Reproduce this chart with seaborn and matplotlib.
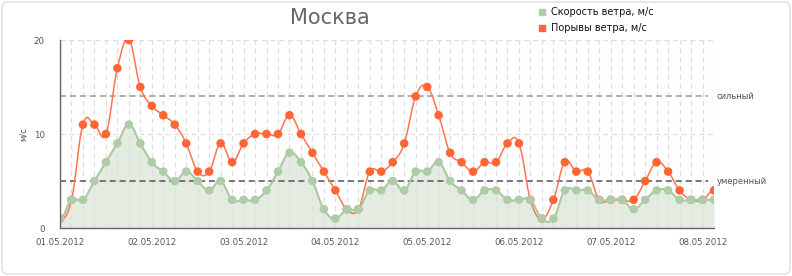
import numpy as np
import pandas as pd
import matplotlib
matplotlib.use('Agg')
import matplotlib.pyplot as plt
import seaborn as sns
from matplotlib.patches import FancyBboxPatch
from matplotlib.lines import Line2D

# 3-hourly observations, Moscow, 01.05.2012 00:00 .. 08.05.2012 03:00
times = pd.date_range('2012-05-01 00:00', periods=58, freq='3h')
wind_speed = [1, 3, 3, 5, 7, 9, 11, 9, 7, 6, 5, 6, 5, 4, 5, 3, 3, 3, 4, 6,
              8, 7, 5, 2, 1, 2, 2, 4, 4, 5, 4, 6, 6, 7, 5, 4, 3, 4, 4, 3,
              3, 3, 1, 1, 4, 4, 4, 3, 3, 3, 2, 3, 4, 4, 3, 3, 3, 3]
wind_gust = [1, 3, 11, 11, 10, 17, 20, 15, 13, 12, 11, 9, 6, 6, 9, 7, 9, 10, 10, 10,
             12, 10, 8, 6, 4, 2, 2, 6, 6, 7, 9, 14, 15, 12, 8, 7, 6, 7, 7, 9,
             9, 3, 1, 3, 7, 6, 6, 3, 3, 3, 3, 5, 7, 6, 4, 3, 3, 4]
level_values = [14, 5]
level_names = ['сильный', 'умеренный']
level_colors = ['#9a9a9a', '#555555']
series_names = ['Скорость ветра, м/с', 'Порывы ветра, м/с']

GREEN_LINE = '#a9c8a1'
GREEN_DOT = '#afcba8'
GREEN_FILL = '#e4ece1'
RED_LINE = '#ff7452'
RED_DOT = '#ff6633'


def spline(x, y, n=20, k=0.4):
    # bezier smoothing through every point, like a charting lib "spline" series
    x = np.asarray(x, float)
    y = np.asarray(y, float)
    m = np.zeros_like(y)
    m[1:-1] = (y[2:] - y[:-2]) / (x[2:] - x[:-2])
    t = np.linspace(0, 1, n, endpoint=False)
    xs, ys = [], []
    for i in range(len(x) - 1):
        dx = x[i + 1] - x[i]
        p0 = np.array([x[i], y[i]])
        p1 = np.array([x[i] + k * dx, y[i] + k * m[i] * dx])
        p2 = np.array([x[i + 1] - k * dx, y[i + 1] - k * m[i + 1] * dx])
        p3 = np.array([x[i + 1], y[i + 1]])
        pts = ((1 - t) ** 3)[:, None] * p0 + (3 * (1 - t) ** 2 * t)[:, None] * p1 \
            + (3 * (1 - t) * t ** 2)[:, None] * p2 + (t ** 3)[:, None] * p3
        xs.append(pts[:, 0])
        ys.append(pts[:, 1])
    xs.append([x[-1]])
    ys.append([y[-1]])
    return np.concatenate(xs), np.concatenate(ys)


sns.set_style('white')
plt.rcParams['font.family'] = ['DejaVu Sans']

idx = np.arange(len(times))
tick_labels = [t.strftime('%d.%m.%Y') if t.hour == 0 else '' for t in times]

fig = plt.figure(figsize=(7.92, 2.76), dpi=100)
ax = fig.add_axes([60 / 792, 48 / 276, 654 / 792, 188 / 276])

xg, yg = spline(idx, wind_speed)
xr, yr = spline(idx, wind_gust)

# area under wind speed goes below the grid, the grid stays visible through it
ax.fill_between(xg, 0, yg, color=GREEN_FILL, lw=0, zorder=1)
sns.lineplot(x=xr, y=yr, sort=False, estimator=None, color=RED_LINE, lw=1.1, ax=ax, zorder=3)
sns.scatterplot(x=idx, y=wind_gust, color=RED_DOT, s=38, edgecolor='none', ax=ax, zorder=4)
sns.lineplot(x=xg, y=yg, sort=False, estimator=None, color=GREEN_LINE, lw=1.5, ax=ax, zorder=5)
sns.scatterplot(x=idx, y=wind_speed, color=GREEN_DOT, s=38, edgecolor='none', ax=ax, zorder=6)

for val, name, col in zip(level_values, level_names, level_colors):
    ax.hlines(val, 0, len(idx) - 1.5, colors=col, linestyles=(0, (4, 2.5)), lw=1.1, zorder=2.7)
    ax.text(len(idx) - 0.8, val, name, fontsize=6, color='#555555', va='center', ha='left',
            clip_on=False)

ax.set_xlim(0, len(idx) - 1)
ax.set_ylim(0, 20)
ax.set_xticks(idx)
ax.set_xticklabels(tick_labels)
ax.set_yticks([0, 10, 20])
ax.set_axisbelow(False)
ax.grid(True, color='#dedede', linestyle=(0, (4, 3)), lw=0.9)
for gl in ax.get_xgridlines() + ax.get_ygridlines():
    gl.set_zorder(2)

for side in ['top', 'right']:
    ax.spines[side].set_visible(False)
for side in ['left', 'bottom']:
    ax.spines[side].set_color('#666666')
    ax.spines[side].set_linewidth(1)
    ax.spines[side].set_zorder(7)

ax.tick_params(axis='x', direction='out', length=5, width=1, color='#666666',
               labelsize=6.2, labelcolor='#555555', pad=2)
ax.tick_params(axis='y', direction='out', length=5, width=1, color='#666666',
               labelsize=6.2, labelcolor='#555555', pad=6)
ax.set_xlabel('')
ax.set_ylabel('м/с', fontsize=6, color='#555555')
ax.yaxis.set_label_coords(-(60 - 28) / 654, 0.5)

fig.text(330 / 792, 1 - 18 / 276, 'Москва', ha='center', va='center', fontsize=15, color='#666666')

for row, (name, col) in enumerate(zip(series_names, [GREEN_DOT, RED_DOT])):
    y = 1 - (12 + 16 * row) / 276
    fig.add_artist(Line2D([542 / 792], [y], marker='s', markersize=4.5, color=col,
                          linestyle='none', transform=fig.transFigure))
    fig.text(551 / 792, y, name, fontsize=7, color='#111111', va='center', ha='left')

border = FancyBboxPatch((0.02, 0.02), 7.88, 2.72, boxstyle='round,pad=0,rounding_size=0.06',
                        transform=fig.dpi_scale_trans, facecolor='none', edgecolor='#dddddd', lw=1)
fig.add_artist(border)

fig.savefig('out.png', dpi=100)
